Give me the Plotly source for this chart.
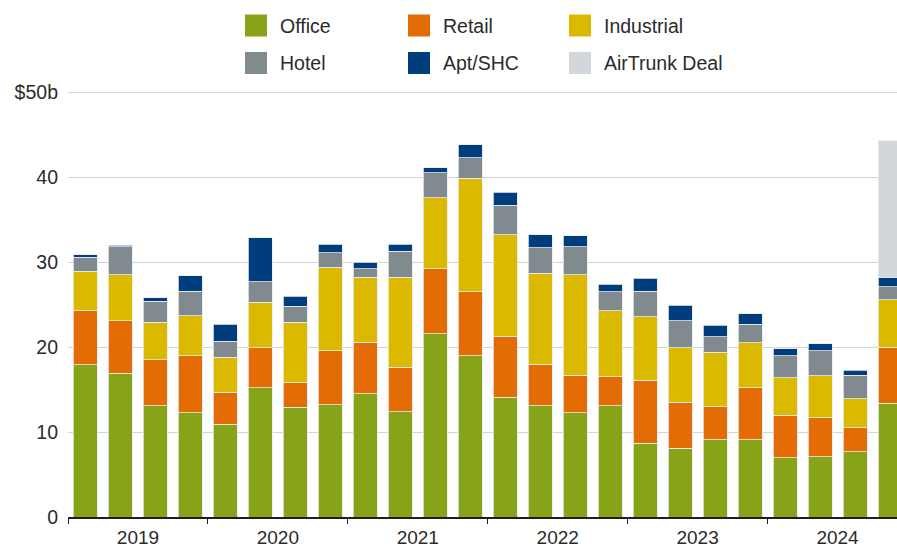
import plotly.graph_objects as go

# ---------------- data ----------------
quarters = ["Q1 2019", "Q2 2019", "Q3 2019", "Q4 2019",
            "Q1 2020", "Q2 2020", "Q3 2020", "Q4 2020",
            "Q1 2021", "Q2 2021", "Q3 2021", "Q4 2021",
            "Q1 2022", "Q2 2022", "Q3 2022", "Q4 2022",
            "Q1 2023", "Q2 2023", "Q3 2023", "Q4 2023",
            "Q1 2024", "Q2 2024", "Q3 2024", "Q4 2024"]
years = ["2019", "2020", "2021", "2022", "2023", "2024"]

office = [17.9, 16.9, 13.1, 12.3, 10.9, 15.2, 12.9, 13.2, 14.5, 12.4, 21.6, 19.0,
          14.1, 13.1, 12.3, 13.1, 8.7, 8.1, 9.1, 9.1, 7.0, 7.1, 7.7, 13.4]
retail = [6.4, 6.2, 5.4, 6.7, 3.8, 4.7, 2.9, 6.4, 6.1, 5.2, 7.6, 7.5,
          7.2, 4.9, 4.4, 3.4, 7.4, 5.4, 3.9, 6.1, 5.0, 4.6, 2.8, 6.6]
industrial = [4.6, 5.4, 4.4, 4.7, 4.1, 5.4, 7.1, 9.8, 7.6, 10.6, 8.4, 13.4,
              11.9, 10.7, 11.8, 7.8, 7.5, 6.4, 6.4, 5.3, 4.4, 4.9, 3.4, 5.6]
hotel = [1.7, 3.3, 2.5, 2.9, 1.9, 2.4, 1.9, 1.7, 1.0, 3.1, 2.9, 2.4,
         3.5, 3.0, 3.3, 2.2, 3.0, 3.2, 1.8, 2.2, 2.6, 3.0, 2.8, 1.5]
apt_shc = [0.3, 0.2, 0.4, 1.8, 2.0, 5.2, 1.2, 1.0, 0.8, 0.8, 0.6, 1.5,
           1.5, 1.5, 1.3, 0.9, 1.5, 1.8, 1.4, 1.2, 0.8, 0.8, 0.6, 1.1]
airtrunk = [None, None, None, None, None, None, None, None, None, None, None, None,
            None, None, None, None, None, None, None, None, None, None, None, 16.1]

series_names = ["Office", "Retail", "Industrial", "Hotel", "Apt/SHC", "AirTrunk Deal"]
series_values = [office, retail, industrial, hotel, apt_shc, airtrunk]
series_colors = ["#87A418", "#E36C04", "#DBB900", "#808A8F", "#003D7D", "#D2D7DB"]

y_tick_vals = [0, 10, 20, 30, 40, 50]
y_tick_text = ["0", "10", "20", "30", "40", "$50b"]

# ---------------- figure ----------------
W, H = 897, 547
ML, MR, MT, MB = 68, 0, 88, 30
PW, PH = W - ML - MR, H - MT - MB

FONT = "Liberation Sans, Arial, Helvetica, sans-serif"
TXT = "#2b2b2b"

x = list(range(len(quarters)))

fig = go.Figure()
for name, vals, col in zip(series_names, series_values, series_colors):
    fig.add_trace(go.Bar(
        x=x, y=vals, name=name, customdata=quarters,
        marker=dict(color=col, line=dict(color="#e6ebf1", width=0.8)),
        hovertemplate="%{customdata}<br>" + name + ": %{y}<extra></extra>",
        showlegend=False,
    ))

# year label positions (centre of each year's quarters)
year_pos = []
for yr in years:
    idx = [i for i, q in enumerate(quarters) if q.endswith(yr)]
    year_pos.append(sum(idx) / len(idx))

# custom legend (swatches + text); positions given in screen pixels
def px_x(p):
    return (p - ML) / PW

def px_y(p):
    return (H - MB - p) / PH

shapes, annots = [], []
col_x = [245, 408, 569]
row_y = [25.5, 63]
for k, (name, col) in enumerate(zip(series_names, series_colors)):
    r, c = divmod(k, 3)
    sx, sy = col_x[c], row_y[r]
    shapes.append(dict(type="rect", xref="paper", yref="paper",
                       x0=px_x(sx), x1=px_x(sx + 22), y0=px_y(sy + 11), y1=px_y(sy - 11),
                       fillcolor=col, line=dict(width=0)))
    annots.append(dict(xref="paper", yref="paper", x=px_x(sx + 33), y=px_y(sy),
                       xanchor="left", yanchor="middle", text=name, showarrow=False,
                       font=dict(family=FONT, size=19.5, color=TXT)))

fig.update_layout(
    width=W, height=H,
    margin=dict(l=ML, r=MR, t=MT, b=MB, pad=0, autoexpand=False),
    barmode="stack", bargap=0.314,
    paper_bgcolor="white", plot_bgcolor="white",
    font=dict(family=FONT, size=19, color=TXT),
    shapes=shapes, annotations=annots,
    xaxis=dict(
        range=[-0.5, 23.2], tickmode="array", tickvals=year_pos, ticktext=years,
        ticks="", showgrid=False, zeroline=False, automargin=False,
        showline=True, linecolor="#1e1e1e", linewidth=1.5, ticklabelstandoff=2,
        tickfont=dict(family=FONT, size=19, color=TXT),
        minor=dict(ticks="outside", ticklen=5, tickwidth=1.2, tickcolor="#1e1e1e",
                   tickmode="linear", tick0=-0.5, dtick=4, showgrid=False),
    ),
    yaxis=dict(
        range=[0, 50.5], tickmode="array", tickvals=y_tick_vals, ticktext=y_tick_text,
        ticks="", showgrid=True, gridcolor="#d4d4d4", gridwidth=1.3,
        zeroline=False, showline=False, ticklabelstandoff=9, automargin=False,
        tickfont=dict(family=FONT, size=19.5, color=TXT),
    ),
)

fig.write_html(
    "out.html",
    config={"displayModeBar": False},
    post_script="document.body.style.margin='0';document.body.style.overflow='hidden';",
)
